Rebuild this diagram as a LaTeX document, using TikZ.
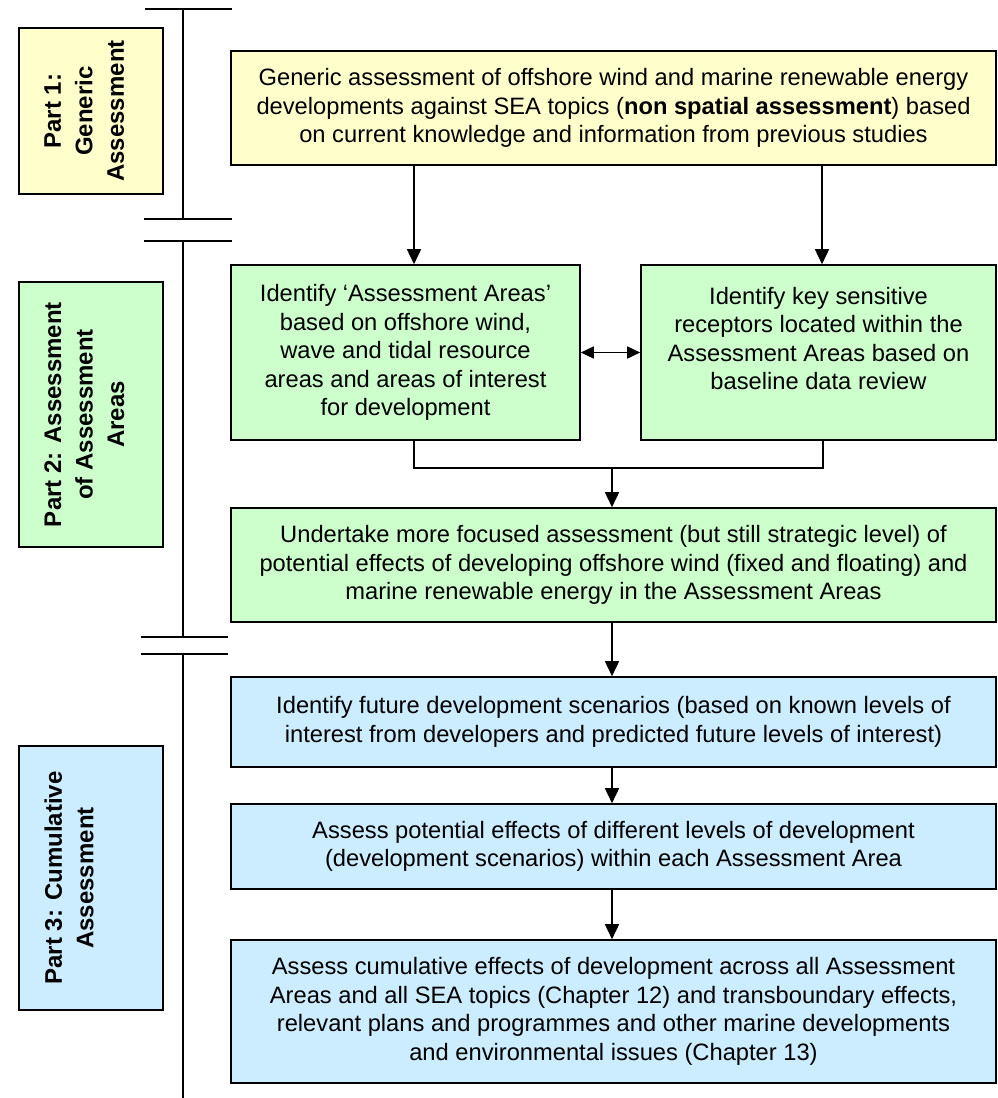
\documentclass[tikz,border=0pt]{standalone}
\usepackage{fontspec}
\setmainfont{Liberation Sans}
\usepackage{xcolor}
\usetikzlibrary{arrows.meta,calc}
\definecolor{genyellow}{HTML}{FFFFCC}
\definecolor{areagreen}{HTML}{CCFFCC}
\definecolor{cumblue}{HTML}{CCECFF}

\begin{document}
\begin{tikzpicture}[x=1pt, y=-1pt,
    stage/.style={draw, line width=1.6pt, fill=#1, minimum width=765pt, inner sep=0pt,
                  align=center, font=\fontsize{23.7}{28.5}\selectfont},
    partbox/.style={draw, line width=1.6pt, fill=#1, rotate=90, minimum height=144pt, inner sep=0pt},
    parttext/.style={rotate=90, anchor=north, align=center, inner sep=0pt,
                     font=\bfseries\fontsize{24}{31.5}\selectfont},
    rule/.style={line width=1.6pt},
    arr/.style={-{Triangle[length=15pt, width=14pt]}, line width=1.6pt},
    dblarr/.style={{Triangle[length=13pt, width=12pt]}-{Triangle[length=13pt, width=12pt]}, line width=1.6pt}
]
\useasboundingbox (0,0) rectangle (997,1098);

%% Timeline on the left
\draw[rule] (145,9) -- (232,9);
\draw[rule] (183,9) -- (183,219);
\draw[rule] (144,219) -- (232,219);
\draw[rule] (144,241) -- (232,241);
\draw[rule] (183,241) -- (183,637);
\draw[rule] (141,637) -- (228,637);
\draw[rule] (141,654) -- (228,654);
\draw[rule] (183,654) -- (183,1098);

%% Part labels
\node[partbox=genyellow, minimum width=166pt] (p1) at (91,111) {};
\node[parttext] (p1t) at ([xshift=26pt]p1.north) {Part 1:\\Generic\\Assessment};
\node[partbox=areagreen, minimum width=265pt] (p2) at (91,414.5) {};
\node[parttext] (p2t) at ([xshift=26pt]p2.north) {Part 2: Assessment\\of Assessment\\Areas};
\node[partbox=cumblue, minimum width=264pt] (p3) at (91,878) {};
\node[parttext] (p3t) at ([xshift=26pt]p3.north) {Part 3: Cumulative\\Assessment};

%% Part 1: Generic assessment
\node[stage=genyellow, minimum height=114pt] (gen) at (613.5,108)
  {Generic assessment of offshore wind and marine renewable energy\\
   developments against SEA topics (\textbf{non spatial assessment}) based\\
   on current knowledge and information from previous studies};

%% Part 2: Assessment areas
\node[stage=areagreen, minimum width=349pt, minimum height=175pt] (areas) at (405.5,352.5)
  {Identify `Assessment Areas'\\based on offshore wind,\\wave and tidal resource\\
   areas and areas of interest\\for development};
\node[stage=areagreen, minimum width=355pt, minimum height=175pt] (recep) at (818.5,352.5)
  {Identify key sensitive\\receptors located within the\\Assessment Areas based on\\
   baseline data review\\\mbox{}};
\node[stage=areagreen, minimum height=114pt] (focus) at (613.5,565)
  {Undertake more focused assessment (but still strategic level) of\\
   potential effects of developing offshore wind (fixed and floating) and\\
   marine renewable energy in the Assessment Areas};

%% Part 3: Cumulative assessment
\node[stage=cumblue, minimum height=90pt] (scen) at (613.5,722)
  {Identify future development scenarios (based on known levels of\\
   interest from developers and predicted future levels of interest)};
\node[stage=cumblue, minimum height=85pt] (levels) at (613.5,846.5)
  {Assess potential effects of different levels of development\\
   (development scenarios) within each Assessment Area};
\node[stage=cumblue, minimum height=143pt] (cumul) at (613.5,1011.5)
  {Assess cumulative effects of development across all Assessment\\
   Areas and all SEA topics (Chapter 12) and transboundary effects,\\
   relevant plans and programmes and other marine developments\\
   and environmental issues (Chapter 13)};

%% Connectors
\draw[arr] ([xshift=8.5pt]areas.north |- gen.south) -- ([xshift=8.5pt]areas.north);
\draw[arr] ([xshift=3.5pt]recep.north |- gen.south) -- ([xshift=3.5pt]recep.north);
\draw[dblarr] (areas.east) -- (recep.west);
\coordinate (join) at ($(areas.south)!0.5!(recep.south) + (0,27)$);
\draw[rule] ([xshift=8.5pt]areas.south) |- (join) -| ([xshift=4.5pt]recep.south);
\draw[arr] (join) -- (join |- focus.north);
\draw[arr] (focus.south -| join) -- (scen.north -| join);
\draw[arr] (scen.south -| join) -- (levels.north -| join);
\draw[arr] (levels.south -| join) -- (cumul.north -| join);

\end{tikzpicture}
\end{document}
